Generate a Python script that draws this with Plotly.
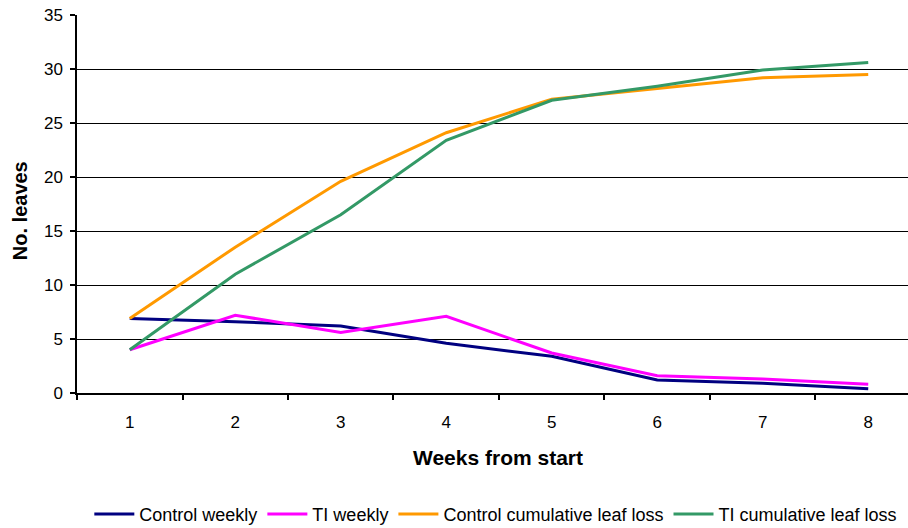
import plotly.graph_objects as go

weeks = [1, 2, 3, 4, 5, 6, 7, 8]
control_weekly = [6.9, 6.6, 6.2, 4.6, 3.4, 1.2, 0.9, 0.4]
ti_weekly = [4.0, 7.2, 5.6, 7.1, 3.7, 1.6, 1.3, 0.8]
control_cumulative = [6.9, 13.5, 19.6, 24.1, 27.2, 28.2, 29.2, 29.5]
ti_cumulative = [4.0, 11.0, 16.5, 23.4, 27.1, 28.4, 29.9, 30.6]

series = [
    ("Control weekly", control_weekly, "#000080"),
    ("TI weekly", ti_weekly, "#FF00FF"),
    ("Control cumulative leaf loss", control_cumulative, "#FF9900"),
    ("TI cumulative leaf loss", ti_cumulative, "#339966"),
]

FONT = "Liberation Sans, Arial, sans-serif"

fig = go.Figure()
for name, vals, color in series:
    fig.add_trace(go.Scatter(
        x=weeks, y=vals, name=name, mode="lines",
        line=dict(color=color, width=3),
    ))

fig.update_layout(
    width=908, height=528,
    margin=dict(l=77, r=0, t=15, b=135),
    paper_bgcolor="white", plot_bgcolor="white",
    font=dict(family=FONT, size=17, color="black"),
    showlegend=True,
    legend=dict(
        orientation="h", xref="paper", yref="container",
        x=0.504, xanchor="center", y=0.026, yanchor="middle",
        font=dict(size=18), itemwidth=40, tracegroupgap=0,
    ),
    xaxis=dict(
        range=[0.5, 8.377], tickvals=weeks, ticktext=[str(w) for w in weeks],
        ticks="", showgrid=False, zeroline=False,
        showline=True, linecolor="black", linewidth=1.5,
        ticklabelstandoff=13,
        minor=dict(tick0=0.5, dtick=1, ticks="outside", ticklen=5,
                   tickcolor="black", tickwidth=1.5, showgrid=False),
    ),
    yaxis=dict(
        range=[0, 35], tickvals=[0, 5, 10, 15, 20, 25, 30, 35],
        ticks="outside", ticklen=5, tickcolor="black", tickwidth=1.5,
        showgrid=True, gridcolor="black", gridwidth=1,
        zeroline=False, showline=True, linecolor="black", linewidth=1.5,
        ticklabelstandoff=4,
    ),
    annotations=[
        dict(text="<b>Weeks from start</b>", xref="paper", yref="paper",
             x=(498 - 77) / (908 - 77), y=-(458 - 393.3) / 378,
             xanchor="center", yanchor="middle", showarrow=False,
             font=dict(size=21)),
        dict(text="<b>No. leaves</b>", xref="paper", yref="paper",
             x=-(77 - 20) / (908 - 77), y=(393.3 - 211.5) / 378, textangle=-90,
             xanchor="center", yanchor="middle", showarrow=False,
             font=dict(size=20)),
    ],
)

fig.write_html("out.html")
